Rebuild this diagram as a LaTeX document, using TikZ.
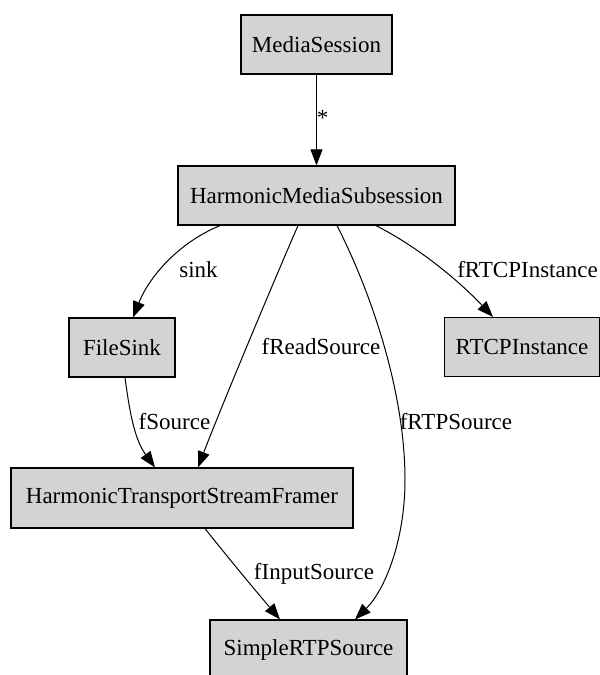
\documentclass[tikz,border=0pt]{standalone}
\usepackage{fontspec}
\setmainfont{Liberation Serif}
\usetikzlibrary{arrows.meta}
\definecolor{boxgrey}{HTML}{D3D3D3}
\tikzset{
  cls/.style={draw=black, fill=boxgrey, line width=1.2pt, rectangle,
    inner sep=0pt, font=\fontsize{23}{27}\selectfont, minimum height=59pt},
  rel/.style={draw=black, line width=1pt,
    -{Triangle[length=16pt,width=12pt]}},
  lbl/.style={font=\fontsize{23}{27}\selectfont, inner sep=0pt}
}
\begin{document}
\begin{tikzpicture}[x=1pt,y=-1pt]
\useasboundingbox (0,0) rectangle (600,675);

% classes
\node[cls, minimum width=151pt] (ms)   at (316.5,44.5) {MediaSession};
\node[cls, minimum width=277pt] (hms)  at (316.5,195.5) {HarmonicMediaSubsession};
\node[cls, minimum width=106pt] (fs)   at (122,347.5) {FileSink};
\node[cls, minimum width=155pt] (rtcp) at (522,347) {RTCPInstance};
\node[cls, minimum width=342pt, minimum height=60pt] (htsf) at (182,498) {HarmonicTransportStreamFramer};
\node[cls, minimum width=197pt] (srtp) at (308.5,649.5) {SimpleRTPSource};

% associations
\draw[rel] (ms.south) -- (hms.north);
\node[lbl] (lstar) at (322.5,118) {*};

\draw[rel] ([xshift=-96.5pt]hms.south) .. controls (180,242) and (150,275) .. ([xshift=11pt]fs.north);
\node[lbl] (lsink) at (198.5,270) {sink};

\draw[rel] ([xshift=-18.5pt]hms.south) .. controls (270,290) and (220,410) .. ([xshift=16pt]htsf.north);
\node[lbl] (lread) at (321,347) {fReadSource};

\draw[rel] ([xshift=20.5pt]hms.south) .. controls (370,290) and (405,390) .. (405,480)
  .. controls (405,540) and (385,590) .. ([xshift=46.5pt]srtp.north);
\node[lbl] (lrtp) at (456,422) {fRTPSource};

\draw[rel] ([xshift=59.5pt]hms.south) .. controls (420,248) and (460,282) .. ([xshift=-29pt]rtcp.north);
\node[lbl] (lrtcp) at (527.5,270) {fRTCPInstance};

\draw[rel] ([xshift=3pt]fs.south) .. controls (130,415) and (135,440) .. ([xshift=-27pt]htsf.north);
\node[lbl] (lsrc) at (174.5,422) {fSource};

\draw[rel] ([xshift=23pt]htsf.south) .. controls (230,560) and (255,590) .. ([xshift=-28.5pt]srtp.north);
\node[lbl] (linput) at (314,574) {fInputSource};
\end{tikzpicture}
\end{document}
